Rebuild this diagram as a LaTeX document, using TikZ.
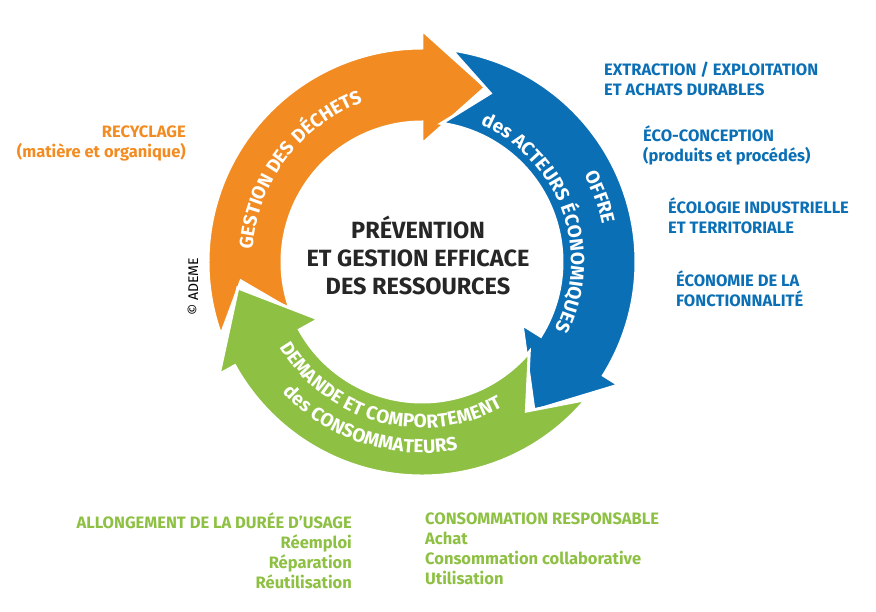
\documentclass[tikz,border=0pt]{standalone}
\usepackage{fontspec}
\setmainfont{Fira Sans}
\usetikzlibrary{decorations.text}

\definecolor{orng}{HTML}{F28C22}
\definecolor{blu}{HTML}{0B6FB6}
\definecolor{grn}{HTML}{8DC043}

% one segment of the ring: colour, tail, notch, head base, tip
\newcommand{\ringarrow}[5]{%
  \path[fill=#1,draw=white,line width=3pt,line join=miter]
    (#2:214) arc[start angle=#2,end angle=#4,radius=214]
    -- (#4:232) -- (#5:186) -- (#4:118) -- (#4:140)
    arc[start angle=#4,end angle=#2,radius=140] -- (#3:182) -- cycle;}

\begin{document}
\begin{tikzpicture}[x=1pt,y=1pt,
  side/.style={font=\fontsize{16.5}{20}\selectfont\bfseries,inner sep=0pt},
  ring/.style={decorate,decoration={text along path,text align=center,
    text={|\fontsize{19}{19}\selectfont\bfseries\color{white}|#1}}}]

\useasboundingbox (-422,-349) rectangle (454,262);

\ringarrow{orng}{200}{186}{90}{70}
\ringarrow{blu}{82}{68}{-32}{-53}
\ringarrow{grn}{-40}{-55}{-151}{-172}

\path[ring={GESTION DES DÉCHETS}] (185:170) arc[start angle=185,end angle=101,radius=170];
\path[ring={OFFRE}] (42:184) arc[start angle=42,end angle=-2,radius=184];
\path[ring={des ACTEURS ÉCONOMIQUES}] (74:149) arc[start angle=74,end angle=-34,radius=149];
\path[ring={DEMANDE ET COMPORTEMENT}] (197:166) arc[start angle=197,end angle=313,radius=166];
\path[ring={des CONSOMMATEURS}] (203:191) arc[start angle=203,end angle=301,radius=191];

\node[align=center,font=\fontsize{23.5}{28}\selectfont\bfseries,text=black!85] (core) at (-4,7)
  {PRÉVENTION\\ET GESTION EFFICACE\\DES RESSOURCES};

\node[side,text=blu,align=left,anchor=north west] (extr) at (182,200) {EXTRACTION / EXPLOITATION\\ET ACHATS DURABLES};
\node[side,text=blu,align=left,anchor=north west] (eco) at (221,136) {ÉCO-CONCEPTION\\(produits et procédés)};
\node[side,text=blu,align=left,anchor=north west] (indu) at (246,64) {ÉCOLOGIE INDUSTRIELLE\\ET TERRITORIALE};
\node[side,text=blu,align=left,anchor=north west] (fonc) at (254,-9) {ÉCONOMIE DE LA\\FONCTIONNALITÉ};
\node[side,text=orng,align=right,anchor=north east] (recy) at (-236,136) {RECYCLAGE\\(matière et organique)};
\node[rotate=90,font=\fontsize{14}{14}\selectfont,inner sep=0pt] (copy) at (-229,-25) {© ADEME};
\node[side,text=grn,align=right,anchor=north east] (dura) at (-70,-251) {ALLONGEMENT DE LA DURÉE D’USAGE\\Réemploi\\Réparation\\Réutilisation};
\node[side,text=grn,align=left,anchor=north west] (resp) at (3,-251) {CONSOMMATION RESPONSABLE\\Achat\\Consommation collaborative\\Utilisation};

\end{tikzpicture}
\end{document}
